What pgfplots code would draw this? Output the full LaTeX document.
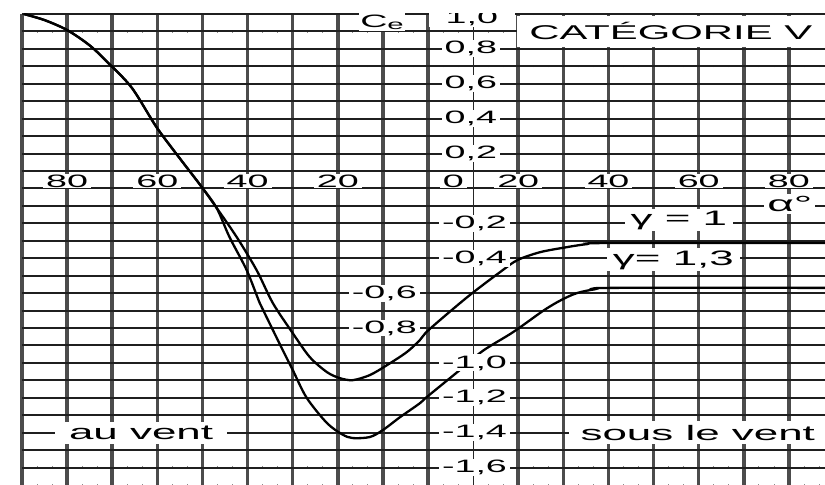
\documentclass[border=0pt]{standalone}
\usepackage{pgfplots}
\pgfplotsset{compat=1.18}
\usepackage{fontspec}
\setmainfont[FakeStretch=2.1]{Liberation Sans}
\tikzset{lab/.style={fill=white, inner xsep=3bp, inner ysep=1bp, font=\fontsize{18}{18}\selectfont}}
\begin{document}
\begin{tikzpicture}
\useasboundingbox (-22bp,0) rectangle (803bp,485bp);
\begin{axis}[
  at={(0,0)}, anchor=south west,
  scale only axis, width=803bp, height=471bp,
  xmin=-90, xmax=88, ymin=-1.7, ymax=1.0,
  axis line style={draw=none},
  xtick={-90,-80,-70,-60,-50,-40,-30,-20,-10,0,20,30,40,50,60,70,80},
  ytick={-1.6,-1.5,-1.4,-1.3,-1.2,-1.1,-1.0,-0.9,-0.8,-0.7,-0.6,-0.5,-0.4,-0.3,-0.2,-0.1,0,0.1,0.2,0.3,0.4,0.5,0.6,0.7,0.8,0.9,1.0},
  minor xtick={-86.6667,-83.3333,...,88},
  xticklabels={}, yticklabels={},
  major tick length=0pt, minor tick length=0pt,
  grid=major, xminorgrids=true,
  major x grid style={line width=3.5bp, black!70},
  major y grid style={line width=1.9bp, black!88},
  minor x grid style={line width=0.8bp, black!45, dash pattern=on 1.2bp off 16.2bp},
  extra x ticks={10}, extra x tick labels={},
  extra x tick style={grid=major, major x grid style={line width=1.2bp, black!85}},
]
% gamma = 1
\addplot[black, line width=2.3bp, smooth, tension=0.5] coordinates {
(-89.6,1.0) (-85,0.965) (-80,0.908) (-75,0.82) (-70.7,0.715) (-65.6,0.575)
(-60.2,0.352) (-55.1,0.175) (-50.5,0.02) (-46.9,-0.11) (-42.4,-0.279)
(-38,-0.468) (-34.4,-0.657) (-30,-0.829) (-26.2,-0.967) (-22.4,-1.053)
(-19.6,-1.087) (-16.7,-1.099) (-12.9,-1.070) (-9.1,-1.013) (-4.7,-0.938)
(-1.8,-0.869) (0.2,-0.81) (8.7,-0.623) (16,-0.479) (19.8,-0.411)
(24.9,-0.365) (30.9,-0.336) (35.3,-0.319) (40,-0.313) (88,-0.313)};
% gamma = 1.3
\addplot[black, line width=2.3bp, smooth, tension=0.5] coordinates {
(-89.6,1.0) (-85,0.965) (-80,0.908) (-75,0.82) (-70.7,0.715) (-65.6,0.575)
(-60.2,0.352) (-55.1,0.175) (-50.5,0.02) (-46.9,-0.11) (-44,-0.279)
(-40.2,-0.468) (-37.3,-0.657) (-35.8,-0.737) (-32.2,-0.927) (-30,-1.04)
(-26.9,-1.2) (-22.4,-1.345) (-19,-1.41) (-16.7,-1.431) (-12.9,-1.425)
(-10,-1.385) (-6.2,-1.311) (-2,-1.235) (0,-1.19) (7.1,-1.04) (12.2,-0.93)
(18.9,-0.823) (25.6,-0.70) (29.5,-0.64) (33,-0.60) (37,-0.578) (41,-0.57) (88,-0.57)};
% alpha labels
\node[lab] at (axis cs:-80,0.042) {80};
\node[lab] at (axis cs:-60,0.042) {60};
\node[lab] at (axis cs:-40,0.042) {40};
\node[lab] at (axis cs:-20,0.042) {20};
\node[lab] at (axis cs:5.6,0.042) {0};
\node[lab] at (axis cs:20,0.042) {20};
\node[lab] at (axis cs:40,0.042) {40};
\node[lab] at (axis cs:60,0.042) {60};
\node[lab] at (axis cs:80,0.042) {80};
% Ce labels
\node[fill=white, anchor=east, minimum width=86bp, minimum height=18bp, inner sep=0pt, font=\fontsize{18}{18}\selectfont] at (axis cs:19.3,0.975) {1,0\hspace{6bp}};
\node[lab, anchor=east] at (axis cs:16.0,0.8) {0,8};
\node[lab, anchor=east] at (axis cs:16.0,0.6) {0,6};
\node[lab, anchor=east] at (axis cs:16.0,0.4) {0,4};
\node[lab, anchor=east] at (axis cs:16.0,0.2) {0,2};
\node[lab, anchor=east] at (axis cs:18.2,-0.2) {-0,2};
\node[lab, anchor=east] at (axis cs:18.2,-0.4) {-0,4};
\node[lab, anchor=east] at (axis cs:-1.8,-0.6) {-0,6};
\node[lab, anchor=east] at (axis cs:-1.8,-0.8) {-0,8};
\node[lab, anchor=east] at (axis cs:18.2,-1.0) {-1,0};
\node[lab, anchor=east] at (axis cs:18.2,-1.2) {-1,2};
\node[lab, anchor=east] at (axis cs:18.2,-1.4) {-1,4};
\node[lab, anchor=east] at (axis cs:18.2,-1.6) {-1,6};
% texts
\node[fill=white, inner sep=1.5bp, font=\fontsize{18}{18}\selectfont] at (axis cs:-10.2,0.955) {C\raisebox{-2bp}{\fontsize{14}{14}\selectfont e}};
\node[fill=white, anchor=north east, minimum width=308bp, minimum height=31bp, inner sep=0pt, font=\fontsize{20}{20}\selectfont] at (axis cs:88,0.992) {CATÉGORIE V};
\node[fill=white, inner xsep=3bp, inner ysep=2bp, font=\fontsize{22}{22}\selectfont] at (axis cs:80.2,-0.09) {α°};
\node[fill=white, inner xsep=6bp, inner ysep=2bp, font=\fontsize{21}{21}\selectfont] at (axis cs:55.6,-0.181) {γ = 1};
\node[fill=white, inner xsep=6bp, inner ysep=2bp, font=\fontsize{21}{21}\selectfont] at (axis cs:54.4,-0.41) {γ= 1,3};
\node[fill=white, inner xsep=14bp, inner ysep=4bp, font=\fontsize{21}{21}\selectfont] at (axis cs:-63.6,-1.40) {au vent};
\node[fill=white, inner xsep=12bp, inner ysep=4bp, font=\fontsize{21}{21}\selectfont] at (axis cs:59.8,-1.40) {sous le vent};
\end{axis}
\end{tikzpicture}
\end{document}
